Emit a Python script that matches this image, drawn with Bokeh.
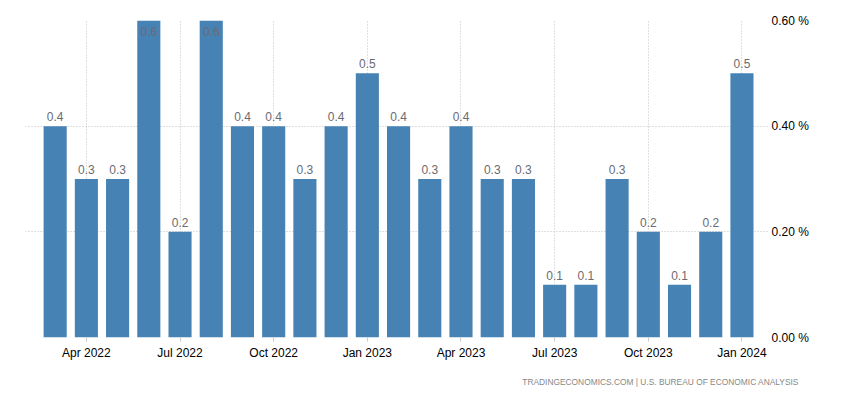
from bokeh.plotting import figure
from bokeh.models import ColumnDataSource, FixedTicker, Range1d, Title
from bokeh.core.properties import value
from bokeh.embed import file_html
from bokeh.resources import INLINE

months = ["Mar 2022", "Apr 2022", "May 2022", "Jun 2022", "Jul 2022", "Aug 2022",
          "Sep 2022", "Oct 2022", "Nov 2022", "Dec 2022", "Jan 2023", "Feb 2023",
          "Mar 2023", "Apr 2023", "May 2023", "Jun 2023", "Jul 2023", "Aug 2023",
          "Sep 2023", "Oct 2023", "Nov 2023", "Dec 2023", "Jan 2024"]
values = [0.4, 0.3, 0.3, 0.6, 0.2, 0.6, 0.4, 0.4, 0.3, 0.4, 0.5, 0.4,
          0.3, 0.4, 0.3, 0.3, 0.1, 0.1, 0.3, 0.2, 0.1, 0.2, 0.5]
x_tick_labels = ["Apr 2022", "Jul 2022", "Oct 2022", "Jan 2023",
                 "Apr 2023", "Jul 2023", "Oct 2023", "Jan 2024"]
y_ticks = [0.0, 0.2, 0.4, 0.6]
y_tick_labels = ["0.00 %", "0.20 %", "0.40 %", "0.60 %"]
footer = "TRADINGECONOMICS.COM  |  U.S. BUREAU OF ECONOMIC ANALYSIS"

YMAX = 0.6
FONT = "Liberation Sans"

idx = list(range(len(months)))
src = ColumnDataSource(dict(x=idx, top=values))

normal = [i for i, v in enumerate(values) if v < YMAX]
clipped = [i for i, v in enumerate(values) if v >= YMAX]
src_n = ColumnDataSource(dict(x=normal, y=[values[i] for i in normal],
                              t=[f"{values[i]:.1f}" for i in normal]))
src_c = ColumnDataSource(dict(x=clipped, y=[YMAX for i in clipped],
                              t=[f"{values[i]:.1f}" for i in clipped]))

p = figure(width=834, height=398, output_backend="svg", toolbar_location=None,
           x_range=Range1d(-0.95, 22.85), y_range=Range1d(0, YMAX),
           y_axis_location="right",
           min_border_left=25, min_border_top=20, min_border_right=66,
           min_border_bottom=61)
p.outline_line_color = None
p.background_fill_color = "white"
p.border_fill_color = "white"

p.vbar(x="x", top="top", bottom=0, width=0.74, source=src,
       fill_color="#4682B4", line_color=None)

p.text(x="x", y="y", text="t", source=src_n, text_align="center",
       text_baseline="bottom", y_offset=-5, text_color="#6b6b73",
       text_font=value(FONT), text_font_size="12px")
p.text(x="x", y="y", text="t", source=src_c, text_align="center",
       text_baseline="top", y_offset=6, text_color="#6b6b73",
       text_font=value(FONT), text_font_size="12px")

xt = [months.index(m) for m in x_tick_labels]
p.xaxis.ticker = FixedTicker(ticks=xt)
p.xaxis.major_label_overrides = {t: l for t, l in zip(xt, x_tick_labels)}
p.xaxis.axis_line_color = None
p.xaxis.minor_tick_line_color = None
p.xaxis.major_tick_line_color = "#cccccc"
p.xaxis.major_tick_out = 4
p.xaxis.major_tick_in = 0
p.xaxis.major_label_standoff = 4
p.xaxis.major_label_text_font = FONT
p.xaxis.major_label_text_font_size = "12px"
p.xaxis.major_label_text_color = "#000000"

p.yaxis.ticker = FixedTicker(ticks=y_ticks)
p.yaxis.major_label_overrides = {t: l for t, l in zip(y_ticks, y_tick_labels)}
p.yaxis.axis_line_color = None
p.yaxis.major_tick_line_color = None
p.yaxis.minor_tick_line_color = None
p.yaxis.major_tick_out = 0
p.yaxis.major_tick_in = 0
p.yaxis.major_label_standoff = 3
p.yaxis.major_label_text_font = FONT
p.yaxis.major_label_text_font_size = "12px"
p.yaxis.major_label_text_color = "#000000"

for g in (p.xgrid, p.ygrid):
    g.grid_line_color = "#c0c0c0"
    g.grid_line_dash = "1 2"
    g.grid_line_width = 1

p.add_layout(Title(text=footer, align="right", offset=-35, standoff=24,
                   text_font=FONT, text_font_size="8.4px", text_font_style="normal",
                   text_color="#888888"), "below")

open("out.html", "w").write(file_html(p, INLINE))
